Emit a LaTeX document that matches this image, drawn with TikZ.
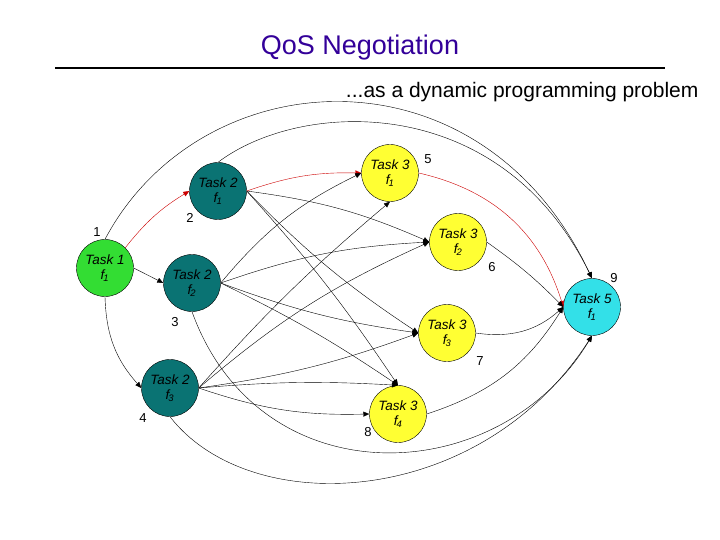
\documentclass[tikz,border=0pt]{standalone}
\usepackage{fontspec}
\setmainfont{Liberation Sans}
\usetikzlibrary{arrows.meta}
\definecolor{tgreen}{RGB}{51,221,51}
\definecolor{tteal}{RGB}{10,115,115}
\definecolor{tyel}{RGB}{255,255,51}
\definecolor{tcyan}{RGB}{51,224,232}
\definecolor{ttitle}{RGB}{51,0,153}
\newcommand{\ff}[1]{f\textsubscript{\kern-1pt#1}}
\begin{document}
\begin{tikzpicture}[x=1pt,y=-1pt,
  task/.style={circle,draw=black,minimum size=57pt,inner sep=0pt,align=center,font=\fontsize{13.5}{15}\selectfont\itshape},
  num/.style={font=\fontsize{13}{13}\selectfont},
  e/.style={-{Triangle[length=6pt,width=5pt]},thin},
  r/.style={e,draw=red!80!black}]
\useasboundingbox (0,0) rectangle (720,540);
\node[font=\fontsize{27}{29}\selectfont,text=ttitle] (title) at (360,48) {QoS Negotiation};
\draw[line width=1.2pt] (55,68) -- (665,68);
\node[font=\fontsize{21}{23}\selectfont,anchor=east] (sub) at (702,92) {...as a dynamic programming problem};
\node[task,fill=tgreen] (t1) at (105,268) {Task 1\\\ff{1}};
\node[task,fill=tteal] (a1) at (218,191) {Task 2\\\ff{1}};
\node[task,fill=tteal] (a2) at (192,283) {Task 2\\\ff{2}};
\node[task,fill=tteal] (a3) at (170,388) {Task 2\\\ff{3}};
\node[task,fill=tyel] (b1) at (390,173) {Task 3\\\ff{1}};
\node[task,fill=tyel] (b2) at (458,242) {Task 3\\\ff{2}};
\node[task,fill=tyel] (b3) at (447,333) {Task 3\\\ff{3}};
\node[task,fill=tyel] (b4) at (398,414) {Task 3\\\ff{4}};
\node[task,fill=tcyan] (c) at (592,307) {Task 5\\\ff{1}};
\node[num] (n1) at (97,232) {1};
\node[num] (n2) at (190,218) {2};
\node[num] (n3) at (175,322) {3};
\node[num] (n4) at (143,418) {4};
\node[num] (n5) at (428,159) {5};
\node[num] (n6) at (492,267) {6};
\node[num] (n7) at (480,361) {7};
\node[num] (n8) at (368,432) {8};
\node[num] (n9) at (614,278) {9};
% task1 -> task2
\draw[r] (t1.45) to[bend left=10] (a1.west);
\draw[e] (t1.east) -- (a2.west);
\draw[e] (t1.south) to[bend right=20] (a3.west);
% task2 -> task3
\foreach \s in {a1,a2,a3}{
  \draw[e] (\s.east) to[bend left=8] (b2.west);
  \draw[e] (\s.east) to[bend right=6] (b3.west);
  \draw[e] (\s.east) to[bend left=4] (b4.north);
}
\draw[r] (a1.east) to[bend left=10] (b1.west);
\draw[e] (a2.east) to[bend left=12] (b1.west);
\draw[e] (a3.east) to[bend left=4] (b1.south);
\draw[e] (a3.east) to[bend right=10] (b4.west);
% task3 -> task5
\draw[r] (b1.east) to[bend left=30] (c.west);
\draw[e] (b2.east) to[bend left=5] (c.west);
\draw[e] (b3.east) to[bend right=25] (c.west);
\draw[e] (b4.east) to[bend right=20] (c.west);
% skip edges
\draw[e] (t1.north) .. controls (200,60) and (480,40) .. (c.north);
\draw[e] (a1.north) .. controls (300,100) and (500,90) .. (c.north);
\draw[e] (a2.south) .. controls (260,500) and (500,490) .. (c.south);
\draw[e] (a3.south) .. controls (250,520) and (480,510) .. (c.south);
\end{tikzpicture}
\end{document}
